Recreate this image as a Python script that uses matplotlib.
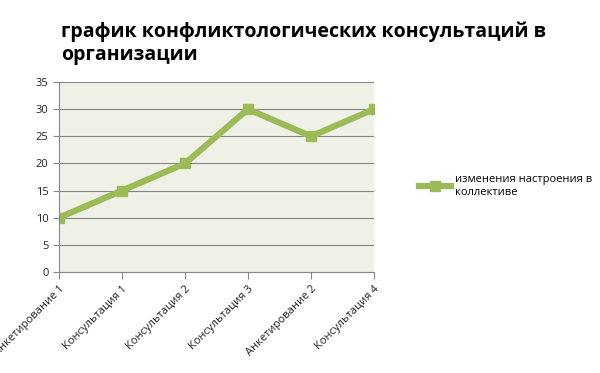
import matplotlib
matplotlib.use('Agg')
import matplotlib.pyplot as plt

categories = ['Анкетирование 1', 'Консультация 1', 'Консультация 2',
              'Консультация 3', 'Анкетирование 2', 'Консультация 4']
values = [10, 15, 20, 30, 25, 30]
series_name = 'изменения настроения в\nколлективе'
title = 'график конфликтологических консультаций в\nорганизации'

plt.rcParams['font.family'] = ['Open Sans', 'DejaVu Sans']

fig = plt.figure(figsize=(6, 3.73), dpi=100)
ax = fig.add_axes([0.0983, 0.2708, 0.525, 0.5092])
ax.set_facecolor('#EFF1E7')

x = list(range(len(categories)))
ax.plot(x, values, color='#9BBB59', lw=4.5, marker='s', ms=6.5,
        solid_joinstyle='miter', label=series_name)

ax.set_xlim(0, len(categories) - 1)
ax.set_ylim(0, 35)
ax.set_yticks(range(0, 36, 5))
ax.set_xticks(x)
ax.set_xticklabels(categories, rotation=45, ha='right', rotation_mode='anchor',
                   fontsize=8, color='#222222')
ax.tick_params(axis='y', labelsize=8, colors='#222222', length=4, color='#868686')
ax.tick_params(axis='x', length=5, color='#868686')
ax.grid(axis='y', color='#868686', lw=0.8)
ax.set_axisbelow(True)
for s in ['top', 'right']:
    ax.spines[s].set_visible(False)
for s in ['left', 'bottom']:
    ax.spines[s].set_color('#868686')

fig.text(0.102, 0.885, title, fontsize=14, fontweight='bold', va='center', ha='left',
         linespacing=1.2)

ax.legend(loc='center left', bbox_to_anchor=(1.111, 0.453), frameon=False,
          fontsize=8, handlelength=2.9, handletextpad=0.3, borderaxespad=0.5)

fig.savefig('out.png', dpi=100)
